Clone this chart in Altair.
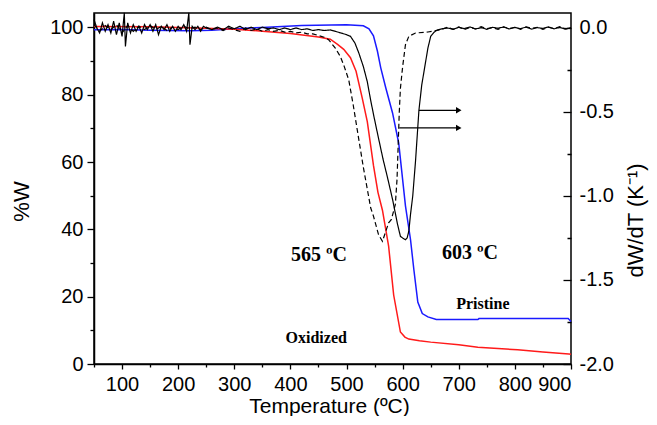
import altair as alt
import pandas as pd

# ---------------- TGA curves (%W, left axis) ----------------
pristine_T = [50, 100, 150, 220, 260, 300, 350, 420, 500, 530, 540, 548, 555, 561, 570, 582,
              593, 605, 614, 620, 627, 635, 645, 660, 734, 736, 895, 900]
pristine_W = [99.3, 99.4, 99.2, 99.0, 99.2, 99.6, 100.0, 100.6, 100.8, 100.5, 99.6, 97.5, 93.0,
              88.0, 82.0, 74.6, 65.6, 47.0, 37.0, 28.0, 18.4, 15.0, 14.0, 13.2, 13.2, 13.5, 13.5, 12.6]

oxidized_T = [50, 150, 250, 300, 350, 400, 450, 471, 484, 495, 507, 517, 528, 537, 548, 556,
              564, 575, 584, 596, 604, 611, 630, 650, 700, 734, 805, 850, 896, 900]
oxidized_W = [100.3, 100.2, 99.8, 99.5, 98.9, 98.2, 97.2, 96.5, 95.0, 93.5, 91.0, 87.0, 79.0,
              72.0, 59.0, 51.0, 45.7, 35.0, 20.5, 9.5, 8.0, 7.4, 6.9, 6.5, 5.7, 5.0, 4.2, 3.6, 3.0, 2.9]

# ---------------- derivative curves (dW/dT, right axis) ----------------
pris_dT = [50, 55, 60, 65, 70, 75, 80, 85, 90, 95, 100, 104, 106, 110, 115, 120, 125, 130, 135,
           140, 145, 150, 155, 160, 165, 170, 175, 180, 185, 190, 195, 200, 205, 210, 215, 219,
           221, 225, 230, 235, 240, 245, 250, 260, 270, 280, 290, 300, 310, 320, 330, 340, 350,
           360, 370, 380, 390, 400, 410, 420, 430, 440, 450, 460, 471, 480, 490, 500, 507, 515,
           522, 530, 537, 543, 549, 555, 565, 573, 582, 591, 596, 600, 605, 608, 611, 614, 618,
           623, 629, 634, 641, 645, 650, 656, 662, 670, 680, 690, 700, 710, 720, 730, 740, 750,
           760, 770, 780, 790, 800, 810, 820, 830, 840, 850, 860, 870, 880, 890, 900]
pris_dD = [0.05, 0.0, -0.03, 0.03, -0.02, 0.02, -0.03, 0.04, -0.04, 0.03, -0.05, 0.09, -0.11,
           0.03, -0.03, 0.02, -0.02, 0.01, -0.03, 0.02, -0.01, 0.02, -0.02, 0.02, -0.04, 0.01,
           -0.01, 0.02, -0.02, 0.01, -0.02, 0.01, -0.01, 0.02, -0.02, 0.09, -0.10, 0.01, -0.01,
           0.01, -0.02, 0.01, 0.0, -0.01, 0.005, -0.01, 0.01, -0.005, 0.01, -0.01, 0.005, -0.01,
           0.005, -0.005, 0.0, -0.01, 0.0, -0.01, 0.0, -0.01, -0.005, -0.015, -0.01, -0.015,
           -0.012, -0.02, -0.03, -0.04, -0.05, -0.09, -0.15, -0.23, -0.32, -0.43, -0.53, -0.625,
           -0.78, -0.89, -1.02, -1.17, -1.24, -1.25, -1.26, -1.25, -1.21, -1.11, -1.0, -0.79,
           -0.49, -0.34, -0.2, -0.12, -0.05, -0.025, -0.012, -0.005, 0.0, -0.008, 0.004, -0.004,
           0.006, -0.006, 0.002, -0.008, 0.004, -0.002, 0.006, -0.006, 0.003, -0.004, 0.005,
           -0.007, 0.002, -0.003, 0.006, -0.005, 0.003, -0.006, 0.002]

oxid_dT = [50, 60, 70, 80, 90, 100, 110, 120, 130, 140, 150, 160, 170, 180, 190, 200, 210, 220,
           230, 240, 250, 260, 270, 280, 290, 300, 310, 320, 330, 340, 350, 360, 370, 380, 390,
           400, 410, 420, 430, 440, 450, 460, 468, 480, 489, 496, 504, 512, 520, 530, 543, 548,
           557, 564, 570, 575, 580, 587, 590, 592, 594, 596, 600, 605, 611, 623, 645, 668, 680,
           690, 700, 710, 720, 730, 740, 750, 760, 770, 780, 790, 800, 810, 820, 830, 840, 850,
           860, 870, 880, 890, 900]
oxid_dD = [0.02, -0.02, 0.015, -0.01, 0.02, -0.03, 0.015, -0.02, 0.01, -0.01, 0.015, -0.01,
           0.01, -0.015, 0.005, -0.01, 0.01, -0.005, 0.005, -0.01, 0.005, -0.01, 0.0, -0.015,
           0.0, -0.01, -0.02, 0.0, -0.015, -0.005, -0.02, -0.01, -0.02, -0.015, -0.025, -0.02,
           -0.03, -0.025, -0.035, -0.035, -0.045, -0.055, -0.07, -0.12, -0.17, -0.23, -0.31,
           -0.46, -0.625, -0.83, -1.07, -1.12, -1.23, -1.27, -1.21, -1.16, -1.14, -1.05, -0.9,
           -0.7, -0.5, -0.36, -0.23, -0.1, -0.05, -0.03, -0.024, -0.01, 0.004, -0.008, 0.006,
           -0.01, 0.004, -0.006, 0.008, -0.004, 0.002, -0.008, 0.006, -0.004, 0.004, -0.008,
           0.006, -0.002, 0.004, -0.008, 0.004, -0.004, 0.008, -0.006, 0.002]

# ---------------- annotations ----------------
ann_labels = ["565 ºC", "603 ºC", "Pristine", "Oxidized"]
ann_T = [451, 720, 743, 446]
ann_W = [32.5, 33.1, 17.7, 7.7]
ann_size = [20, 20, 16, 16]

arrow_start_T = [629, 594]
arrow_end_T = [700, 700]
arrow_D = [-0.49, -0.595]

x_ticks = list(range(50, 901, 50))
w_ticks = list(range(0, 101, 10))
d_ticks = [-2.0, -1.75, -1.5, -1.25, -1.0, -0.75, -0.5, -0.25, 0.0]

# ---------------- data frames ----------------
tga_df = pd.DataFrame({
    "T": pristine_T + oxidized_T,
    "W": pristine_W + oxidized_W,
    "series": ["Pristine"] * len(pristine_T) + ["Oxidized"] * len(oxidized_T),
})
der_df = pd.DataFrame({
    "T": pris_dT + oxid_dT,
    "D": pris_dD + oxid_dD,
    "series": ["Pristine"] * len(pris_dT) + ["Oxidized"] * len(oxid_dT),
})
ann_df = pd.DataFrame({"label": ann_labels, "T": ann_T, "W": ann_W, "fs": ann_size})
arr_df = pd.DataFrame({"T": arrow_start_T, "T2": arrow_end_T, "D": arrow_D})

FONT = "Liberation Sans"

x_scale = alt.Scale(domain=[50, 900], nice=False, zero=False)
x_axis = alt.Axis(
    values=x_ticks,
    labelExpr="datum.value % 100 === 0 ? datum.label : ''",
    tickSize=5,
    tickDash={"condition": {"test": "datum.value % 100 !== 0", "value": [3, 10]},
              "value": [10, 0]},
    labelPadding=5,
    title="Temperature (ºC)",
    titleFontSize=21,
    titleX=235, titleY=42, titleBaseline="middle", titleAlign="center",
)

w_scale = alt.Scale(domain=[0, 104.3], nice=False, zero=False)
w_axis = alt.Axis(
    values=w_ticks,
    orient="left",
    labelExpr="datum.value % 20 === 0 ? datum.label : ''",
    tickSize=7,
    tickDash={"condition": {"test": "datum.value % 20 !== 0", "value": [4, 10]},
              "value": [10, 0]},
    labelPadding=4,
    title="%W",
    titleAngle=270, titleX=-73, titleY=188, titleBaseline="middle", titleAlign="center",
)

d_scale = alt.Scale(domain=[-2.0, 0.089], nice=False, zero=False)
d_axis = alt.Axis(
    values=d_ticks,
    orient="right",
    offset=-8,
    domain=False,
    tickSize=8,
    tickDash={"condition": {"test": "abs(datum.value * 2 - round(datum.value * 2)) > 0.001",
                            "value": [0, 4, 4, 0]}, "value": [8, 0]},
    labelExpr="abs(datum.value * 2 - round(datum.value * 2)) < 0.001 ? "
              "replace(format(datum.value, '.1f'), '\u2212', '-') : ''",
    labelPadding=8,
    title="dW/dT (K\u207b\u00b9)",
    titleAngle=270, titleX=72, titleY=207, titleBaseline="middle", titleAlign="center",
)

tga = alt.Chart(tga_df).mark_line(strokeWidth=1.5).encode(
    x=alt.X("T:Q", scale=x_scale, axis=x_axis),
    y=alt.Y("W:Q", scale=w_scale, axis=w_axis),
    color=alt.Color("series:N", scale=alt.Scale(domain=["Pristine", "Oxidized"],
                                                range=["#1a1aff", "#ff1a1a"]), legend=None),
    order="T:Q",
)

texts = alt.Chart(ann_df).mark_text(
    font="Liberation Serif", fontWeight="bold", color="black", baseline="middle", align="center"
).encode(
    x=alt.X("T:Q", scale=x_scale, axis=x_axis),
    y=alt.Y("W:Q", scale=w_scale, axis=w_axis),
    text="label:N",
    size=alt.Size("fs:Q", scale=None, legend=None),
)

der = alt.Chart(der_df).mark_line(strokeWidth=1.2, color="black").encode(
    x=alt.X("T:Q", scale=x_scale, axis=x_axis),
    y=alt.Y("D:Q", scale=d_scale, axis=d_axis),
    strokeDash=alt.StrokeDash("series:N", scale=alt.Scale(domain=["Pristine", "Oxidized"],
                                                          range=[[1, 0], [5, 3]]), legend=None),
    order="T:Q",
)

arrows = alt.Chart(arr_df).mark_rule(strokeWidth=1.2, color="black").encode(
    x=alt.X("T:Q", scale=x_scale, axis=x_axis),
    x2="T2:Q",
    y=alt.Y("D:Q", scale=d_scale, axis=d_axis),
)
heads = alt.Chart(arr_df).mark_point(shape="triangle-right", filled=True, color="black",
                                     size=40, opacity=1).encode(
    x=alt.X("T2:Q", scale=x_scale, axis=x_axis),
    y=alt.Y("D:Q", scale=d_scale, axis=d_axis),
)

left = alt.layer(tga, texts)
right = alt.layer(der, arrows, heads)

chart = alt.layer(left, right).resolve_scale(y="independent").properties(
    width=477, height=351,
    autosize=alt.AutoSizeParams(type="none"),
    padding={"left": 86, "top": 5, "right": 78, "bottom": 52},
).configure_view(
    stroke="black", strokeWidth=1.5
).configure_axis(
    grid=False,
    domainColor="black", domainWidth=1.5,
    tickColor="black", tickWidth=1.3,
    labelColor="black", labelFont=FONT, labelFontSize=20,
    titleColor="black", titleFont=FONT, titleFontSize=22, titleFontWeight="normal",
)

chart.save("out.html", embed_options={"renderer": "svg", "actions": False})
